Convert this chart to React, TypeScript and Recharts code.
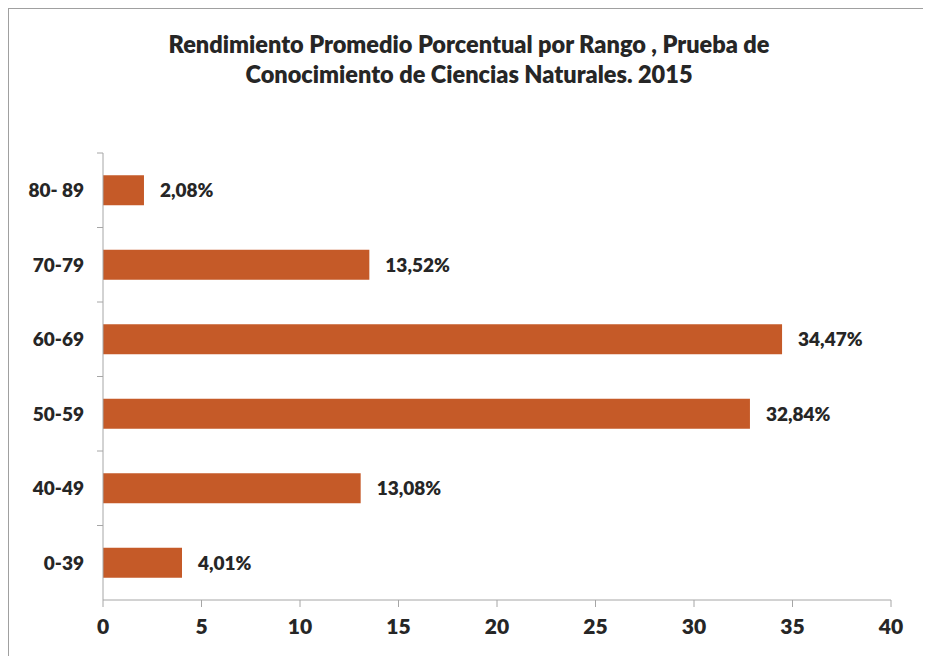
import React from 'react';
import { BarChart, Bar, XAxis, YAxis, LabelList } from 'recharts';

const rangos = ['80- 89', '70-79', '60-69', '50-59', '40-49', '0-39'];
const rendimiento = [2.08, 13.52, 34.47, 32.84, 13.08, 4.01];
const xTicks = [0, 5, 10, 15, 20, 25, 30, 35, 40];

const data = rangos.map((r, i) => ({ rango: r, valor: rendimiento[i] }));

const W = 920;
const H = 660;
const M = { top: 144, right: 38, bottom: 0, left: 0 };
const X_AXIS_H = 69;
const BAND = (H - M.top - M.bottom - X_AXIS_H) / rangos.length;

const font = 'Lato, "Open Sans", sans-serif';
const ink = '#262626';
const axisGrey = '#a6a6a6';

const YTick = (props: any) => {
  const { x, y, payload } = props;
  return (
    <g>
      <line x1={x - 6} x2={x} y1={y - BAND / 2} y2={y - BAND / 2} stroke={axisGrey} />
      <text x={x - 19} y={y} dy={7} textAnchor="end" fontFamily={font} fontWeight={800} fontSize={19} fill={ink}>
        {payload.value}
      </text>
    </g>
  );
};

export default function App() {
  return (
    <div style={{ position: 'relative', width: W, height: H, border: '1px solid #a0a0a0', background: '#fff' }}>
      <div
        style={{
          position: 'absolute', top: 20, left: 0, width: W, textAlign: 'center',
          fontFamily: font, fontWeight: 800, fontSize: 23.5, lineHeight: '30px', color: ink,
        }}
      >
        Rendimiento Promedio Porcentual por Rango , Prueba de
        <br />
        Conocimiento de Ciencias Naturales. 2015
      </div>
      <BarChart width={W} height={H} data={data} layout="vertical" margin={M} barCategoryGap="30%">
        <XAxis
          type="number"
          domain={[0, 40]}
          ticks={xTicks}
          interval={0}
          height={X_AXIS_H}
          stroke={axisGrey}
          tickSize={7}
          tickMargin={12}
          tick={{ fill: ink, fontSize: 21, fontWeight: 800, fontFamily: font }}
        />
        <YAxis
          type="category"
          dataKey="rango"
          width={94}
          stroke={axisGrey}
          tickLine={false}
          tickSize={0}
          tickMargin={0}
          tick={<YTick />}
        />
        <Bar dataKey="valor" fill="#c55a28" isAnimationActive={false}>
          <LabelList
            dataKey="valor"
            position="right"
            offset={16}
            formatter={(v: any) => `${Number(v).toFixed(2).replace('.', ',')}%`}
            style={{ fill: ink, fontSize: 19, fontWeight: 800, fontFamily: font }}
          />
        </Bar>
      </BarChart>
    </div>
  );
}
